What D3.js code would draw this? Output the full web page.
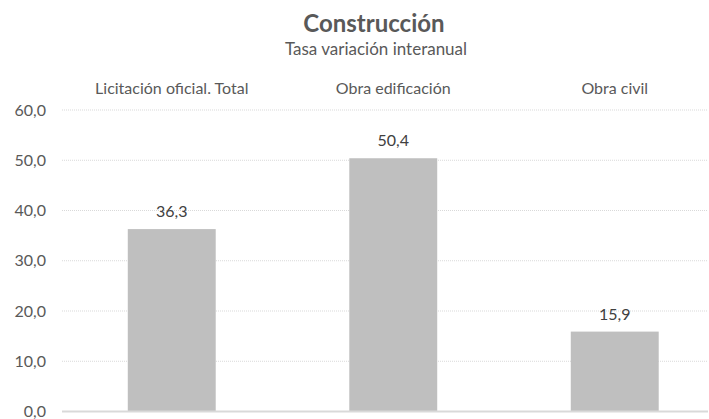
<!DOCTYPE html>
<html>
<head>
<meta charset="utf-8">
<script src="https://cdn.jsdelivr.net/npm/d3@7"></script>
<style>
  body { margin: 0; background: #fff; }
  text { font-family: Lato, "Open Sans", sans-serif; }
</style>
</head>
<body>
<script>
// chart data
let categories = ["Licitación oficial. Total", "Obra edificación", "Obra civil"];
let values = [36.3, 50.4, 15.9];
let yTicks = [0, 10, 20, 30, 40, 50, 60];

let width = 709, height = 419;
let plotLeft = 62, plotRight = 708;

let svg = d3.select("body").append("svg")
	.attr("width", width)
	.attr("height", height);

let fmt = d => d.toFixed(1).replace(".", ",");

let yScale = d3.scaleLinear().domain([0, 60]).range([411.5, 110]);
let xScale = d3.scaleBand()
	.domain(categories)
	.range([61, 725.5])
	.paddingInner(0.603)
	.paddingOuter(0.3015);

// title + subtitle
svg.append("text")
	.attr("x", 374).attr("y", 32)
	.attr("text-anchor", "middle")
	.attr("font-size", 24).attr("font-weight", "bold")
	.attr("fill", "#595959")
	.text("Construcción");
svg.append("text")
	.attr("x", 376).attr("y", 55)
	.attr("text-anchor", "middle")
	.attr("font-size", 17)
	.attr("fill", "#595959")
	.text("Tasa variación interanual");

// gridlines
svg.append("g").selectAll("line")
	.data(yTicks.filter(d => d > 0))
	.enter().append("line")
		.attr("x1", plotLeft).attr("x2", plotRight)
		.attr("y1", d => yScale(d)).attr("y2", d => yScale(d))
		.attr("stroke", "#d9d9d9")
		.attr("stroke-dasharray", "1,1");

// y axis labels
let yAxis = svg.append("g")
	.attr("transform", "translate(" + plotLeft + ",0)")
	.call(d3.axisLeft(yScale).tickValues(yTicks).tickFormat(fmt).tickSize(0).tickPadding(16));
yAxis.select(".domain").remove();
yAxis.selectAll("text")
	.attr("font-size", 16)
	.attr("fill", "#595959")
	.style("font-family", "Lato, 'Open Sans', sans-serif");

// category labels on top
let xAxis = svg.append("g")
	.attr("transform", "translate(0,94)")
	.call(d3.axisTop(xScale).tickSize(0).tickPadding(0));
xAxis.select(".domain").remove();
xAxis.selectAll("text")
	.attr("font-size", 16)
	.attr("fill", "#595959")
	.style("font-family", "Lato, 'Open Sans', sans-serif");

// bars
svg.selectAll(".bar")
	.data(values)
	.enter().append("rect")
		.attr("class", "bar")
		.attr("x", (d, i) => xScale(categories[i]))
		.attr("width", xScale.bandwidth())
		.attr("y", d => yScale(d))
		.attr("height", d => yScale(0) - yScale(d))
		.attr("fill", "#bfbfbf");

// value labels
svg.selectAll(".val")
	.data(values)
	.enter().append("text")
		.attr("class", "val")
		.attr("x", (d, i) => xScale(categories[i]) + xScale.bandwidth() / 2)
		.attr("y", d => yScale(d) - 12)
		.attr("text-anchor", "middle")
		.attr("font-size", 16)
		.attr("fill", "#404040")
		.text(fmt);

// base line
svg.append("line")
	.attr("x1", plotLeft).attr("x2", plotRight)
	.attr("y1", yScale(0)).attr("y2", yScale(0))
	.attr("stroke", "#d9d9d9")
	.attr("stroke-width", 2);
</script>
</body>
</html>
